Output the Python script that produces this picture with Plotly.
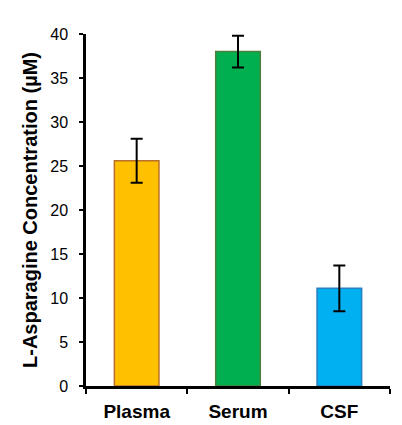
import plotly.graph_objects as go

# data
samples = ['Plasma', 'Serum', 'CSF']
concentration = [25.6, 38.0, 11.1]
error = [2.5, 1.8, 2.6]
fill_colors = ['#FFC000', '#00B050', '#00B0F0']
edge_colors = ['#B8702A', '#4E7E3C', '#2A7FC0']

fig = go.Figure()
fig.add_trace(go.Bar(
    x=samples, y=concentration, width=0.44,
    marker=dict(color=fill_colors, line=dict(color=edge_colors, width=1.5)),
    error_y=dict(type='data', array=error, visible=True,
                 color='black', thickness=2, width=6),
))

# the page has an 8px body margin, so the figure is sized to fit inside it
fig.update_layout(
    width=394, height=417,
    margin=dict(l=78, r=12, t=26, b=39),
    plot_bgcolor='white', paper_bgcolor='white',
    showlegend=False,
    font=dict(family='Liberation Sans, Arial', color='black', size=16),
)
fig.update_xaxes(
    automargin=False,
    showline=True, linecolor='black', linewidth=2.5,
    ticks='outside', tickson='boundaries', ticklen=5, tickwidth=2, tickcolor='black',
    tickfont=dict(size=19), ticklabelstandoff=6,
    tickprefix='<b>', ticksuffix='</b>',
    range=[-0.5, 2.5],
)
fig.update_yaxes(
    automargin=False,
    range=[0, 40], dtick=5, showgrid=False, zeroline=False,
    showline=True, linecolor='black', linewidth=2.5,
    ticks='outside', ticklen=4, tickwidth=2, tickcolor='black',
    tickfont=dict(size=16), ticklabelstandoff=8,
    title=dict(text='<b>L-Asparagine Concentration (µM)</b>',
               font=dict(size=20), standoff=8),
)

fig.write_html('out.html')
